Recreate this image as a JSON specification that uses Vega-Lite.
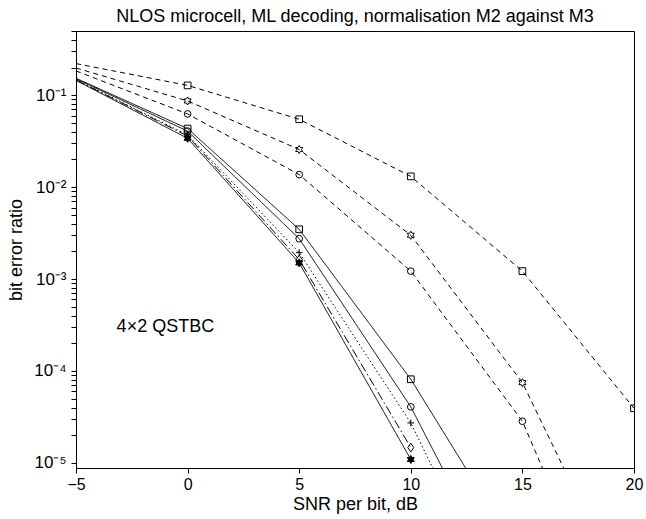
{
  "$schema": "https://vega.github.io/schema/vega-lite/v6.json",
  "width": 558,
  "height": 437,
  "autosize": {"type": "none"},
  "padding": {"left": 76, "top": 31, "right": 12, "bottom": 51},
  "title": {"text": "NLOS microcell, ML decoding, normalisation M2 against M3", "fontSize": 18, "font": "Liberation Sans", "fontWeight": "normal", "color": "black", "anchor": "middle", "offset": 0, "dy": 4},
  "config": {
    "view": {"stroke": "black", "strokeWidth": 1},
    "axis": {"domainColor": "black", "tickColor": "black", "labelColor": "black", "titleColor": "black", "labelFont": "Liberation Sans", "titleFont": "Liberation Sans", "labelFontSize": 16, "titleFontSize": 18, "titleFontWeight": "normal", "grid": false, "tickSize": 5, "labelFlush": false, "labelOverlap": false}
  },
  "data": {"values": [
    {"series": "dir1 (M2)", "snr": -5, "ber": 0.151},
    {"series": "dir1 (M2)", "snr": 0, "ber": 0.0407},
    {"series": "dir1 (M2)", "snr": 5, "ber": 0.00275},
    {"series": "dir1 (M2)", "snr": 10, "ber": 0.0000407},
    {"series": "dir1 (M2)", "snr": 15, "ber": 0.00000018},
    {"series": "dir1 (M3)", "snr": -5, "ber": 0.184},
    {"series": "dir1 (M3)", "snr": 0, "ber": 0.0626},
    {"series": "dir1 (M3)", "snr": 5, "ber": 0.0137},
    {"series": "dir1 (M3)", "snr": 10, "ber": 0.00122},
    {"series": "dir1 (M3)", "snr": 15, "ber": 0.0000284},
    {"series": "dir1 (M3)", "snr": 20, "ber": 0.000000041},
    {"series": "dir2 (M2)", "snr": -5, "ber": 0.153},
    {"series": "dir2 (M2)", "snr": 0, "ber": 0.0434},
    {"series": "dir2 (M2)", "snr": 5, "ber": 0.00348},
    {"series": "dir2 (M2)", "snr": 10, "ber": 0.0000813},
    {"series": "dir2 (M2)", "snr": 15, "ber": 0.00000088},
    {"series": "dir2 (M3)", "snr": -5, "ber": 0.221},
    {"series": "dir2 (M3)", "snr": 0, "ber": 0.128},
    {"series": "dir2 (M3)", "snr": 5, "ber": 0.0548},
    {"series": "dir2 (M3)", "snr": 10, "ber": 0.0131},
    {"series": "dir2 (M3)", "snr": 15, "ber": 0.00122},
    {"series": "dir2 (M3)", "snr": 20, "ber": 0.0000393},
    {"series": "Iso (M2 & M3)", "snr": -5, "ber": 0.148},
    {"series": "Iso (M2 & M3)", "snr": 0, "ber": 0.037},
    {"series": "Iso (M2 & M3)", "snr": 5, "ber": 0.00194},
    {"series": "Iso (M2 & M3)", "snr": 10, "ber": 0.0000272},
    {"series": "Iso (M2 & M3)", "snr": 15, "ber": 0.000000087},
    {"series": "A3h (M2)", "snr": -5, "ber": 0.145},
    {"series": "A3h (M2)", "snr": 0, "ber": 0.034},
    {"series": "A3h (M2)", "snr": 5, "ber": 0.0015},
    {"series": "A3h (M2)", "snr": 10, "ber": 0.0000109},
    {"series": "A3h (M3)", "snr": -5, "ber": 0.198},
    {"series": "A3h (M3)", "snr": 0, "ber": 0.0867},
    {"series": "A3h (M3)", "snr": 5, "ber": 0.0257},
    {"series": "A3h (M3)", "snr": 10, "ber": 0.003},
    {"series": "A3h (M3)", "snr": 15, "ber": 0.0000747},
    {"series": "A3h (M3)", "snr": 20, "ber": 0.00000023},
    {"series": "4×2 Rayleigh i.i.d.", "snr": -5, "ber": 0.147},
    {"series": "4×2 Rayleigh i.i.d.", "snr": 0, "ber": 0.036},
    {"series": "4×2 Rayleigh i.i.d.", "snr": 5, "ber": 0.00163},
    {"series": "4×2 Rayleigh i.i.d.", "snr": 10, "ber": 0.0000147}
  ]},
  "layer": [
    {
      "mark": {"type": "line", "color": "black", "strokeWidth": 1, "clip": true},
      "encoding": {
        "x": {"field": "snr", "type": "quantitative", "scale": {"domain": [-5, 20], "nice": false, "zero": false},
              "axis": {"title": "SNR per bit, dB", "values": [-5, 0, 5, 10, 15, 20], "labelPadding": 3, "titlePadding": 3}},
        "y": {"field": "ber", "type": "quantitative", "scale": {"type": "log", "domain": [0.0000088, 0.5], "nice": false},
              "axis": {"title": "bit error ratio", "titlePadding": 8, "labelPadding": 5, "labelFontSize": 17,
                       "values": [0.00001, 0.00002, 0.00003, 0.00004, 0.00005, 0.00006, 0.00007, 0.00008, 0.00009, 0.0001, 0.0002, 0.0003, 0.0004, 0.0005, 0.0006, 0.0007, 0.0008, 0.0009, 0.001, 0.002, 0.003, 0.004, 0.005, 0.006, 0.007, 0.008, 0.009, 0.01, 0.02, 0.03, 0.04, 0.05, 0.06, 0.07, 0.08, 0.09, 0.1, 0.2, 0.3, 0.4, 0.5],
                       "labelExpr": "abs(log(datum.value)/LN10 - round(log(datum.value)/LN10)) < 0.000001 ? '10' + ['⁰','⁻¹','⁻²','⁻³','⁻⁴','⁻⁵'][-round(log(datum.value)/LN10)] : ''"}},
        "strokeDash": {"field": "series", "type": "nominal", "legend": null,
          "scale": {"domain": ["dir1 (M2)", "dir1 (M3)", "dir2 (M2)", "dir2 (M3)", "Iso (M2 & M3)", "A3h (M2)", "A3h (M3)", "4×2 Rayleigh i.i.d."],
                    "range": [[1, 0], [5, 4], [1, 0], [5, 4], [1.5, 2.5], [1, 0], [5, 4], [9, 3, 1.5, 3]]}}
      }
    },
    {
      "transform": [{"filter": "datum.snr > -5 && (datum.series === 'dir1 (M2)' || datum.series === 'dir1 (M3)')"}],
      "mark": {"type": "point", "filled": false, "color": "black", "strokeWidth": 1, "size": 45, "opacity": 1, "clip": true, "shape": "circle"},
      "encoding": {"x": {"field": "snr", "type": "quantitative"}, "y": {"field": "ber", "type": "quantitative"}}
    },
    {
      "transform": [{"filter": "datum.snr > -5 && (datum.series === 'dir2 (M2)' || datum.series === 'dir2 (M3)')"}],
      "mark": {"type": "point", "filled": false, "color": "black", "strokeWidth": 1, "size": 45, "opacity": 1, "clip": true, "shape": "square"},
      "encoding": {"x": {"field": "snr", "type": "quantitative"}, "y": {"field": "ber", "type": "quantitative"}}
    },
    {
      "transform": [{"filter": "datum.snr > -5 && datum.series === 'Iso (M2 & M3)'"}],
      "mark": {"type": "point", "filled": false, "color": "black", "strokeWidth": 1, "size": 45, "opacity": 1, "clip": true, "shape": "M-1,0H1M0,-1V1"},
      "encoding": {"x": {"field": "snr", "type": "quantitative"}, "y": {"field": "ber", "type": "quantitative"}}
    },
    {
      "transform": [{"filter": "datum.snr > -5 && datum.series === 'A3h (M3)'"}],
      "mark": {"type": "point", "filled": false, "color": "black", "strokeWidth": 1, "size": 45, "opacity": 1, "clip": true,
               "shape": "M0,-1.2L0.346,-0.6L1.039,-0.6L0.693,0L1.039,0.6L0.346,0.6L0,1.2L-0.346,0.6L-1.039,0.6L-0.693,0L-1.039,-0.6L-0.346,-0.6Z"},
      "encoding": {"x": {"field": "snr", "type": "quantitative"}, "y": {"field": "ber", "type": "quantitative"}}
    },
    {
      "transform": [{"filter": "datum.snr > -5 && datum.series === 'A3h (M2)'"}],
      "mark": {"type": "point", "filled": true, "color": "black", "stroke": "black", "strokeWidth": 1, "size": 45, "opacity": 1, "clip": true,
               "shape": "M0,-1.2L0.346,-0.6L1.039,-0.6L0.693,0L1.039,0.6L0.346,0.6L0,1.2L-0.346,0.6L-1.039,0.6L-0.693,0L-1.039,-0.6L-0.346,-0.6Z"},
      "encoding": {"x": {"field": "snr", "type": "quantitative"}, "y": {"field": "ber", "type": "quantitative"}}
    },
    {
      "transform": [{"filter": "datum.snr > -5 && datum.series === '4×2 Rayleigh i.i.d.'"}],
      "mark": {"type": "point", "filled": false, "color": "black", "strokeWidth": 1, "size": 45, "opacity": 1, "clip": true, "shape": "M0,-1.3L0.9,0L0,1.3L-0.9,0Z"},
      "encoding": {"x": {"field": "snr", "type": "quantitative"}, "y": {"field": "ber", "type": "quantitative"}}
    },
    {
      "transform": [{"filter": "datum.ber < 0.000005"}],
      "mark": {"type": "point", "filled": false, "color": "black", "strokeWidth": 1, "size": 225, "opacity": 1, "clip": true},
      "encoding": {
        "x": {"field": "snr", "type": "quantitative"},
        "y": {"field": "ber", "type": "quantitative"},
        "shape": {"field": "series", "type": "nominal",
          "scale": {"domain": ["dir1 (M2)", "dir1 (M3)", "dir2 (M2)", "dir2 (M3)", "Iso (M2 & M3)", "A3h (M2)", "A3h (M3)", "4×2 Rayleigh i.i.d."],
                    "range": [
                      "M-2.333,0H2.333M0.533,0L0.492,0.204L0.377,0.377L0.204,0.492L0,0.533L-0.204,0.492L-0.377,0.377L-0.492,0.204L-0.533,0L-0.492,-0.204L-0.377,-0.377L-0.204,-0.492L0,-0.533L0.204,-0.492L0.377,-0.377L0.492,-0.204Z",
                      "M-2.333,0H-1.733M-1.2,0H-0.667M0.667,0H1.2M1.733,0H2.333M0.533,0L0.492,0.204L0.377,0.377L0.204,0.492L0,0.533L-0.204,0.492L-0.377,0.377L-0.492,0.204L-0.533,0L-0.492,-0.204L-0.377,-0.377L-0.204,-0.492L0,-0.533L0.204,-0.492L0.377,-0.377L0.492,-0.204Z",
                      "M-2.333,0H2.333M-0.467,-0.467L0.467,-0.467L0.467,0.467L-0.467,0.467Z",
                      "M-2.333,0H-1.733M-1.2,0H-0.667M0.667,0H1.2M1.733,0H2.333M-0.467,-0.467L0.467,-0.467L0.467,0.467L-0.467,0.467Z",
                      "M-2.333,0H-2.2M-1.933,0H-1.8M-1.533,0H-1.4M-1.133,0H-1M-0.733,0H-0.6M0.6,0H0.733M1,0H1.133M1.4,0H1.533M1.8,0H1.933M2.2,0H2.333M-0.467,0H0.467M0,-0.467V0.467",
                      "M-2.333,0H2.333M0,-0.533L0.154,-0.267L0.462,-0.267L0.308,0L0.462,0.267L0.154,0.267L0,0.533L-0.154,0.267L-0.462,0.267L-0.308,0L-0.462,-0.267L-0.154,-0.267ZM0,-0.32L0.092,-0.16L0.277,-0.16L0.185,0L0.277,0.16L0.092,0.16L0,0.32L-0.092,0.16L-0.277,0.16L-0.185,0L-0.277,-0.16L-0.092,-0.16ZM0,-0.16L0.046,-0.08L0.139,-0.08L0.092,0L0.139,0.08L0.046,0.08L0,0.16L-0.046,0.08L-0.139,0.08L-0.092,0L-0.139,-0.08L-0.046,-0.08Z",
                      "M-2.333,0H-1.733M-1.2,0H-0.667M0.667,0H1.2M1.733,0H2.333M0,-0.533L0.154,-0.267L0.462,-0.267L0.308,0L0.462,0.267L0.154,0.267L0,0.533L-0.154,0.267L-0.462,0.267L-0.308,0L-0.462,-0.267L-0.154,-0.267Z",
                      "M-2.333,0H-0.8M0.8,0H1.467M1.867,0H2.067M0,-0.6L0.4,0L0,0.6L-0.4,0Z"]},
          "legend": {
            "orient": "top-right", "offset": 2, "title": null, "padding": 6, "rowPadding": 4,
            "labelFontSize": 16, "labelFont": "Liberation Sans", "labelColor": "black", "labelLimit": 300,
            "symbolSize": 225, "symbolStrokeWidth": 1, "symbolStrokeColor": "black", "symbolFillColor": "transparent",
            "symbolOffset": 8.5, "labelOffset": 29,
            "strokeColor": "black", "fillColor": "white"
          }
        }
      }
    },
    {
      "data": {"values": [{"note": "4×2 QSTBC"}]},
      "mark": {"type": "text", "align": "left", "baseline": "middle", "font": "Liberation Sans", "fontSize": 18, "color": "black"},
      "encoding": {
        "x": {"datum": -3.18, "type": "quantitative"},
        "y": {"datum": 0.0003, "type": "quantitative"},
        "text": {"field": "note", "type": "nominal"}
      }
    }
  ]
}
